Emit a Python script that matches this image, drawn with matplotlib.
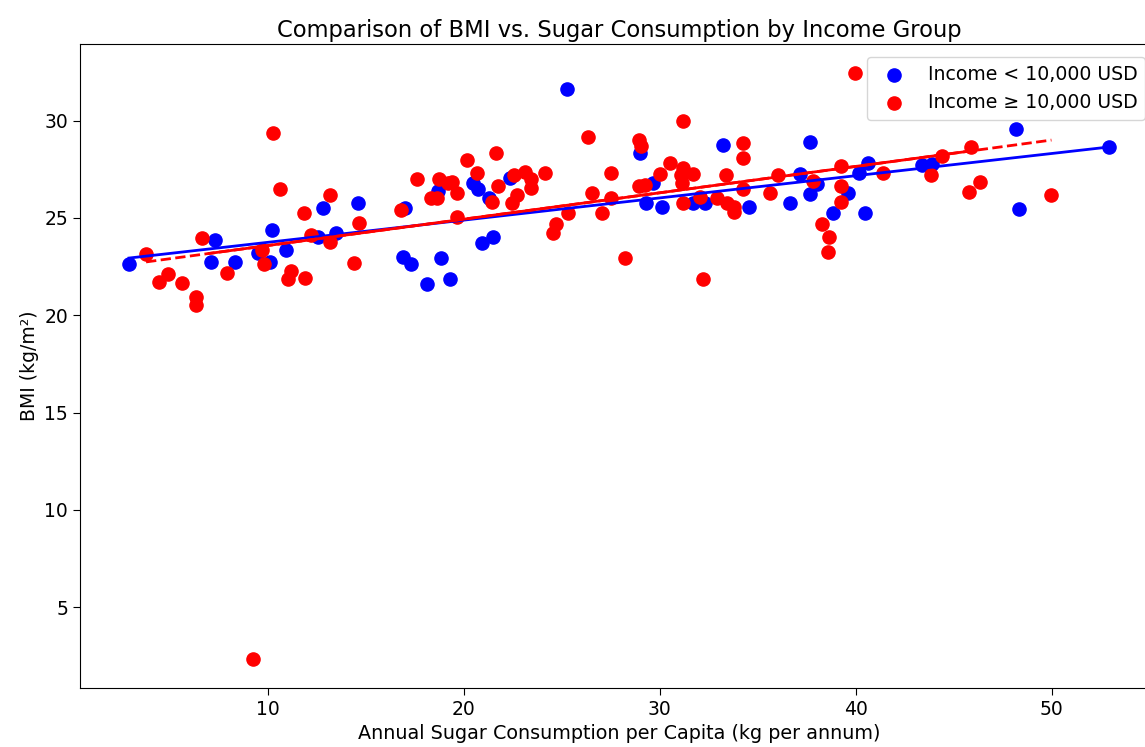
import numpy as np
import matplotlib.pyplot as plt

# Low income group (< 10,000 USD)
low_sugar = [2.91, 7.30, 7.09, 8.30, 9.49, 10.10, 10.22, 10.92, 12.79, 12.54,
             13.47, 14.61, 16.99, 16.90, 17.28, 18.10, 18.81, 19.29, 18.69, 25.24,
             20.47, 20.73, 21.29, 22.35, 20.90, 21.50, 28.98, 29.63, 29.29, 30.09,
             31.70, 32.30, 33.23, 34.56, 36.63, 37.65, 37.14, 38.03, 37.65, 39.61,
             38.81, 40.46, 40.63, 40.17, 43.35, 43.86, 48.16, 52.92, 48.33]
low_bmi = [22.61, 23.89, 22.71, 22.71, 23.18, 22.71, 24.40, 23.37, 25.49, 24.02,
           24.23, 25.75, 25.49, 22.99, 22.61, 21.58, 22.96, 21.87, 26.38, 31.64,
           26.78, 26.47, 26.01, 27.04, 23.71, 24.02, 28.33, 26.78, 25.78, 25.54,
           25.78, 25.78, 28.76, 25.54, 25.75, 28.88, 27.26, 26.74, 26.23, 26.29,
           25.23, 25.23, 27.81, 27.30, 27.73, 27.78, 29.57, 28.64, 25.45]

# High income group (>= 10,000 USD)
high_sugar = [3.78, 6.65, 7.89, 4.91, 4.45, 5.60, 6.31, 6.31, 9.68, 9.80,
              10.27, 10.61, 9.25, 11.04, 11.16, 11.89, 11.84, 13.16, 12.18, 13.16,
              14.39, 14.66, 16.77, 17.59, 18.74, 18.30, 18.61, 19.20, 19.37, 19.66,
              19.63, 20.14, 20.65, 21.63, 21.75, 21.41, 22.43, 22.69, 22.55, 23.11,
              23.40, 23.40, 24.13, 26.34, 26.52, 27.07, 25.32, 24.69, 24.56, 27.48,
              27.53, 31.16, 28.94, 29.01, 28.21, 32.21, 30.51, 30.00, 28.94, 29.23,
              31.16, 31.06, 31.67, 31.11, 31.16, 32.04, 32.89, 33.37, 33.43, 33.78,
              33.78, 34.25, 34.22, 34.22, 35.61, 36.04, 39.95, 37.82, 39.22, 39.22,
              39.22, 38.25, 38.64, 38.59, 41.36, 43.83, 44.37, 45.90, 46.33, 45.78,
              49.98]
high_bmi = [23.16, 23.97, 22.16, 22.13, 21.70, 21.64, 20.96, 20.54, 23.33, 22.61,
            29.36, 26.47, 2.35, 21.87, 22.26, 21.92, 25.26, 26.18, 24.11, 23.76,
            22.68, 24.74, 25.40, 26.99, 26.99, 26.04, 26.04, 26.78, 26.86, 26.26,
            25.05, 27.98, 27.33, 28.33, 26.64, 25.83, 25.78, 26.18, 27.21, 27.38,
            26.99, 26.52, 27.30, 29.14, 26.26, 25.23, 25.23, 24.68, 24.23, 27.33,
            26.01, 30.00, 29.02, 28.71, 22.96, 21.87, 27.81, 27.26, 26.64, 26.69,
            27.56, 27.21, 27.26, 26.81, 25.75, 26.09, 26.01, 27.21, 25.78, 25.31,
            25.57, 28.85, 28.07, 26.47, 26.26, 27.21, 32.43, 26.91, 27.67, 26.64,
            25.83, 24.71, 24.02, 23.25, 27.30, 27.21, 28.16, 28.67, 26.83, 26.35,
            26.18]

# span of the solid red trend line as seen in the chart
high_solid_span = [7.0, 45.9]

low_sugar = np.array(low_sugar)
low_bmi = np.array(low_bmi)
high_sugar = np.array(high_sugar)
high_bmi = np.array(high_bmi)

fig = plt.figure(figsize=(11.45, 7.47), dpi=100)
ax = fig.add_axes([0.0699, 0.079, 0.9415, 0.862])

ax.scatter(low_sugar, low_bmi, color='blue', s=90, label='Income < 10,000 USD')
ax.scatter(high_sugar, high_bmi, color='red', s=90, label='Income ≥ 10,000 USD')

# trend lines
m_low, b_low = np.polyfit(low_sugar, low_bmi, 1)
xs = np.array([low_sugar.min(), low_sugar.max()])
ax.plot(xs, m_low * xs + b_low, color='blue', linewidth=2)

m_high, b_high = np.polyfit(high_sugar, high_bmi, 1)
xs = np.array(high_solid_span)
ax.plot(xs, m_high * xs + b_high, color='red', linewidth=2)

xs = np.array([high_sugar.min(), high_sugar.max()])
ax.plot(xs, m_high * xs + b_high, color='red', linewidth=2, linestyle='--')

ax.set_title('Comparison of BMI vs. Sugar Consumption by Income Group', fontsize=16.3, pad=5)
ax.set_xlabel('Annual Sugar Consumption per Capita (kg per annum)', fontsize=13.8)
ax.set_ylabel('BMI (kg/m²)', fontsize=13.5)
ax.tick_params(labelsize=13.5, length=5)
ax.set_xticks([10, 20, 30, 40, 50])
ax.set_yticks([5, 10, 15, 20, 25, 30])
ax.legend(loc='upper right', fontsize=13.6, borderaxespad=0.7)

fig.savefig('out.png', dpi=100)
